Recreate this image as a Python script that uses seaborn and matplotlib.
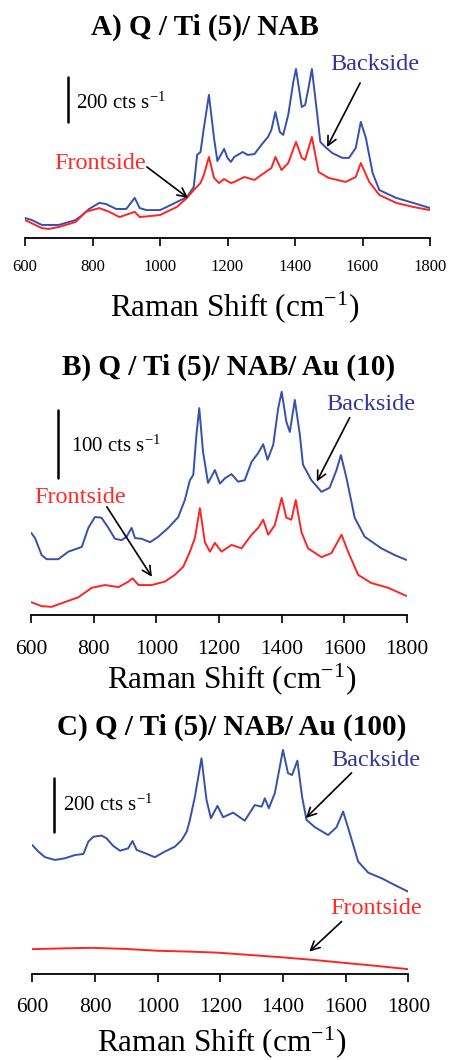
import matplotlib
matplotlib.use("Agg")
import matplotlib.pyplot as plt
import numpy as np
import pandas as pd
import seaborn as sns

# Panel A: Q / Ti (5) / NAB   (counts per second, arbitrary offset)
a_back_x = [600, 620, 650, 700, 750, 770, 790, 820, 840, 870, 900, 925, 940, 960, 1000,
            1020, 1050, 1080, 1100, 1110, 1120, 1130, 1145, 1160, 1170, 1180, 1190, 1200,
            1210, 1220, 1245, 1260, 1280, 1300, 1320, 1330, 1342, 1355, 1365, 1380, 1395,
            1403, 1420, 1430, 1440, 1450, 1465, 1475, 1490, 1510, 1540, 1560, 1580, 1595,
            1610, 1630, 1650, 1700, 1750, 1800]
a_back_y = [89, 80, 58, 58, 80, 102, 129, 156, 151, 129, 129, 178, 133, 124, 124,
            138, 160, 182, 227, 369, 382, 489, 636, 444, 342, 369, 396, 356,
            338, 360, 382, 369, 373, 413, 449, 480, 560, 471, 458, 547, 693,
            751, 582, 591, 667, 751, 560, 427, 404, 378, 356, 356, 400, 516,
            444, 289, 213, 178, 156, 133]
a_front_x = [600, 650, 670, 700, 750, 780, 820, 850, 880, 925, 940, 1000, 1050, 1080, 1100,
             1120, 1130, 1145, 1160, 1175, 1190, 1210, 1220, 1250, 1280, 1300, 1330, 1342,
             1360, 1380, 1403, 1420, 1430, 1450, 1470, 1500, 1550, 1580, 1595, 1620, 1650,
             1700, 1750, 1800]
a_front_y = [80, 44, 40, 49, 71, 116, 133, 116, 93, 116, 93, 102, 138, 178, 213,
             244, 280, 360, 267, 244, 262, 244, 249, 271, 258, 280, 311, 360,
             302, 333, 427, 356, 347, 449, 293, 267, 249, 271, 333, 249, 191,
             156, 138, 124]

# Panel B: Q / Ti (5) / NAB / Au (10)
b_back_x = [600, 613, 634, 650, 687, 719, 762, 783, 804, 825, 847, 868, 889, 905, 921,
            932, 953, 980, 1006, 1038, 1070, 1091, 1107, 1118, 1128, 1137, 1149, 1165,
            1187, 1203, 1219, 1240, 1261, 1282, 1304, 1325, 1341, 1355, 1373, 1389, 1400,
            1415, 1426, 1442, 1458, 1468, 1495, 1527, 1553, 1575, 1589, 1607, 1633, 1665,
            1718, 1761, 1798]
b_back_y = [121, 113, 88, 82, 82, 93, 100, 128, 144, 143, 128, 112, 110, 115, 128,
            113, 112, 107, 115, 128, 144, 169, 198, 206, 265, 304, 240, 194,
            213, 193, 201, 207, 196, 198, 225, 238, 251, 228, 250, 304, 328,
            284, 269, 316, 265, 221, 198, 181, 187, 213, 235, 201, 143, 115,
            98, 88, 81]
b_front_x = [600, 634, 666, 708, 751, 794, 836, 879, 911, 924, 943, 985, 1027, 1059, 1086,
             1107, 1123, 1139, 1155, 1171, 1187, 1208, 1240, 1272, 1304, 1325, 1341, 1357,
             1378, 1400, 1415, 1431, 1445, 1463, 1484, 1527, 1559, 1591, 1612, 1644, 1686,
             1740, 1798]
b_front_y = [19, 13, 12, 19, 26, 40, 44, 41, 49, 54, 44, 44, 49, 59, 71,
             93, 113, 157, 107, 93, 106, 93, 103, 98, 118, 128, 140, 118,
             132, 172, 143, 140, 169, 122, 98, 85, 91, 118, 93, 59, 47,
             40, 28]

# Panel C: Q / Ti (5) / NAB / Au (100)
c_back_x = [600, 619, 641, 672, 704, 736, 763, 779, 795, 821, 837, 858, 880, 906, 920,
            933, 960, 991, 1023, 1055, 1077, 1093, 1103, 1119, 1140, 1156, 1170, 1191,
            1209, 1241, 1278, 1310, 1332, 1342, 1355, 1374, 1390, 1400, 1416, 1429, 1446,
            1461, 1475, 1502, 1544, 1571, 1592, 1613, 1640, 1672, 1715, 1757, 1799]
c_back_y = [475, 451, 430, 420, 426, 438, 442, 488, 506, 510, 500, 472, 454, 463, 490,
            457, 445, 430, 451, 469, 494, 525, 568, 654, 796, 642, 574, 620,
            578, 595, 565, 623, 617, 648, 611, 667, 765, 827, 741, 734, 787,
            654, 568, 541, 512, 541, 599, 519, 414, 373, 352, 327, 303]
c_front_x = [600, 700, 789, 896, 1002, 1100, 1193, 1300, 1396, 1500, 1608, 1700, 1799]
c_front_y = [90, 93, 95, 91, 84, 81, 77, 68, 60, 50, 38, 28, 16]

titles = ["A) Q / Ti (5)/ NAB", "B) Q / Ti (5)/ NAB/ Au (10)", "C) Q / Ti (5)/ NAB/ Au (100)"]
scale_labels = ["200", "100", "200"]
x_ticks = [600, 800, 1000, 1200, 1400, 1600, 1800]

BLUE = "#3550ad"
RED = "#ff2424"
BLUE_TXT = "#33339c"
RED_TXT = "#ff2a2a"

sns.set_style("white")
plt.rcParams["font.family"] = ["Liberation Serif", "DejaVu Serif"]
plt.rcParams["mathtext.fontset"] = "stix"
plt.rcParams["text.color"] = "black"
plt.rcParams["xtick.color"] = "black"
plt.rcParams["xtick.labelcolor"] = "black"

W, H = 449, 1060
fig = plt.figure(figsize=(W / 100, H / 100), dpi=100)


def px_axes(x0, x1, ytop, ybot):
    return fig.add_axes([x0 / W, 1 - ybot / H, (x1 - x0) / W, (ybot - ytop) / H])


panels = [
    dict(box=(25, 430, 55, 238), ylim=813, tick_fs=12, pad=9,
         back=(a_back_x, a_back_y), front=(a_front_x, a_front_y),
         bar=(727, 516, 716), bar_txt=(751, 600),
         back_lbl=(1637, 773), back_arrow=((1593, 689), (1495, 404)),
         front_lbl=(822, 333), front_arrow=((961, 316), (1083, 178)),
         title_xy=(205, 27), xlabel_xy=(235, 308)),
    dict(box=(31, 407, 385, 615), ylim=338, tick_fs=15.5, pad=12,
         back=(b_back_x, b_back_y), front=(b_front_x, b_front_y),
         bar=(686, 201, 301), bar_txt=(728, 248),
         back_lbl=(1684, 310), back_arrow=((1617, 290), (1512, 196)),
         front_lbl=(756, 173), front_arrow=((842, 159), (986, 56)),
         title_xy=(229, 367), xlabel_xy=(232, 680)),
    dict(box=(32.3, 408.3, 745, 973.5), ylim=845, tick_fs=15.5, pad=12,
         back=(c_back_x, c_back_y), front=(c_front_x, c_front_y),
         bar=(670, 524, 723), bar_txt=(699, 623),
         back_lbl=(1695, 786), back_arrow=((1619, 742), (1473, 575)),
         front_lbl=(1696, 242), front_arrow=((1587, 192), (1484, 81)),
         title_xy=(232, 727), xlabel_xy=(222, 1043)),
]

for i, p in enumerate(panels):
    ax = px_axes(*p["box"])
    df_b = pd.DataFrame({"shift": p["back"][0], "cts": p["back"][1]})
    df_f = pd.DataFrame({"shift": p["front"][0], "cts": p["front"][1]})
    sns.lineplot(data=df_b, x="shift", y="cts", ax=ax, color=BLUE, lw=1.4)
    sns.lineplot(data=df_f, x="shift", y="cts", ax=ax, color=RED, lw=1.4)
    ax.set_xlim(600, 1800)
    ax.set_ylim(0, p["ylim"])
    ax.set_xticks(x_ticks)
    ax.set_yticks([])
    ax.set_xlabel("")
    ax.set_ylabel("")
    for s in ["top", "left", "right"]:
        ax.spines[s].set_visible(False)
    ax.spines["bottom"].set_linewidth(1.3)
    ax.spines["bottom"].set_color("black")
    ax.tick_params(axis="x", direction="out", length=6, width=1.2,
                   labelsize=p["tick_fs"], pad=p["pad"], bottom=True,
                   colors="black")
    ax.patch.set_alpha(0)

    # scale bar
    bx, by0, by1 = p["bar"]
    ax.plot([bx, bx], [by0, by1], color="black", lw=1.8)
    ax.text(p["bar_txt"][0], p["bar_txt"][1],
            scale_labels[i] + r" cts s$^{\mathregular{-1}}$",
            fontsize=15, va="center", ha="left")

    ax.text(*p["back_lbl"], "Backside", color=BLUE_TXT, fontsize=17.5,
            ha="center", va="center")
    ax.text(*p["front_lbl"], "Frontside", color=RED_TXT, fontsize=17.5,
            ha="center", va="center")
    for (start, tip) in [p["back_arrow"], p["front_arrow"]]:
        ax.annotate("", xy=tip, xytext=start,
                    arrowprops=dict(arrowstyle="->", color="black", lw=1.2,
                                    mutation_scale=16, shrinkA=0, shrinkB=0))

    tx, ty = p["title_xy"]
    fig.text(tx / W, 1 - ty / H, titles[i], fontsize=21, fontweight="bold",
             ha="center", va="center")
    lx, ly = p["xlabel_xy"]
    fig.text(lx / W, 1 - ly / H, r"Raman Shift (cm$^{\mathregular{-1}}$)",
             fontsize=22.5, ha="center", va="center")

fig.savefig("out.png", dpi=100)
